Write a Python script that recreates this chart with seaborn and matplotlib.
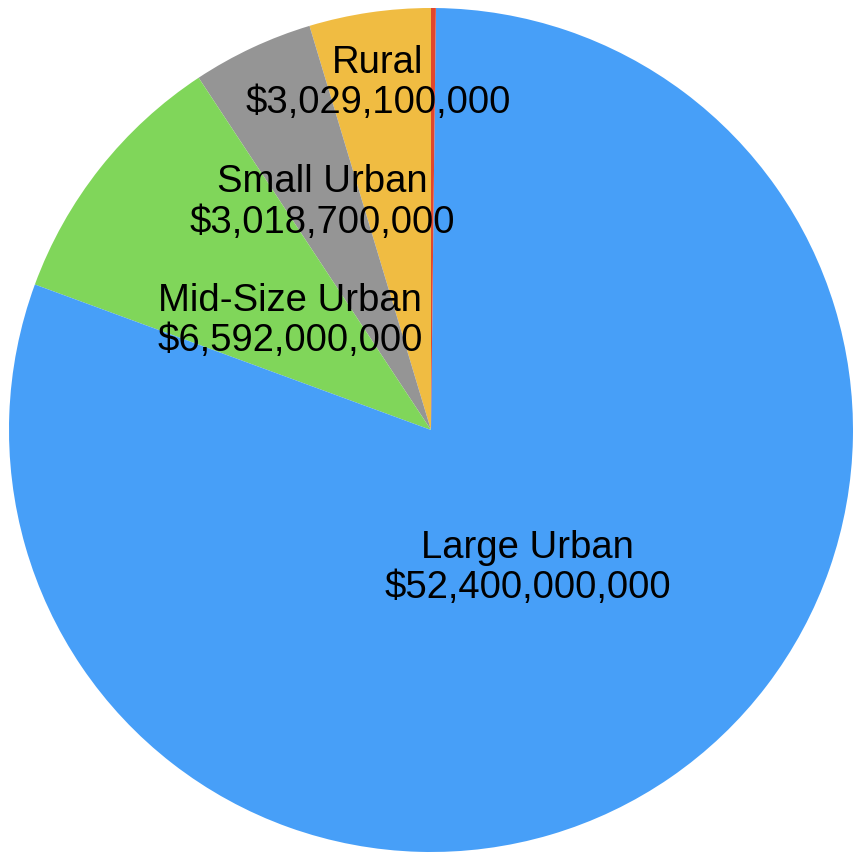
import matplotlib
matplotlib.use("Agg")
import matplotlib.pyplot as plt
import seaborn as sns

# Funding by area type (counterclockwise from 12 o'clock)
categories = ["Rural", "Small Urban", "Mid-Size Urban", "Large Urban", "Other"]
values = [3_029_100_000, 3_018_700_000, 6_592_000_000, 52_400_000_000, 120_000_000]
show_label = [True, True, True, True, False]
colors = ["#F0BC42", "#959595", "#80D65A", "#479FF8", "#E2472C"]

# label anchors in axes fraction
label_pos = [(0.4426, 0.903), (0.377, 0.763), (0.3396, 0.6246), (0.618, 0.3357)]

sns.set_theme(style="white")
plt.rcParams["font.family"] = ["Liberation Sans", "DejaVu Sans"]

fig = plt.figure(figsize=(8.54, 8.55), dpi=100)
ax = fig.add_axes([0, 0, 1, 1])
ax.pie(values, colors=sns.color_palette(colors), startangle=90,
       counterclock=True, radius=1.0, wedgeprops={"linewidth": 0})
ax.set_aspect("auto")
ax.set_xlim(-431 / 422, (854 - 431) / 422)
ax.set_ylim(-425 / 422, 430 / 422)
ax.axis("off")

i = 0
for name, val, show in zip(categories, values, show_label):
    if not show:
        continue
    x, y = label_pos[i]
    ax.text(x, y, f"{name}\n${val:,.0f}", transform=ax.transAxes,
            ha="center", va="center", fontsize=27.5, linespacing=1.17,
            color="black")
    i += 1

fig.savefig("out.png", dpi=100)
